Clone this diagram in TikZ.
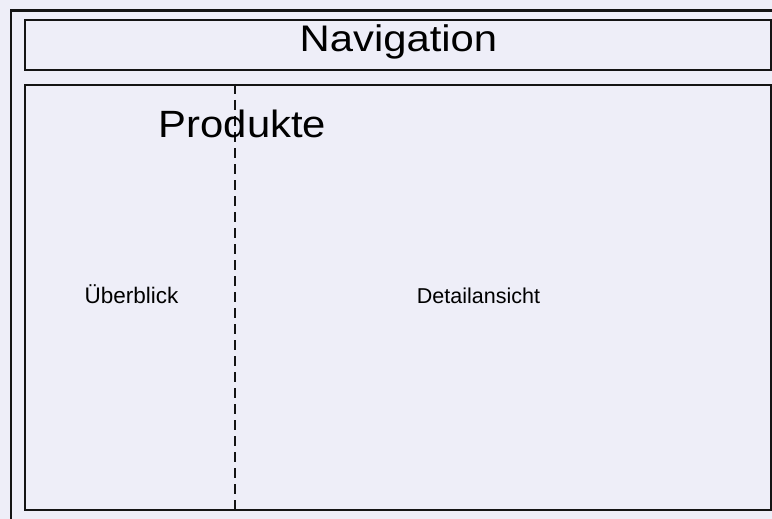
\documentclass[tikz,border=0pt]{standalone}
\usepackage{fontspec}
\usepackage{graphicx}
\setmainfont{Liberation Sans}
\definecolor{bgc}{RGB}{238,238,248}
\definecolor{ink}{RGB}{20,20,20}
\begin{document}
\begin{tikzpicture}[x=1pt,y=-1pt,
  box/.style={draw=ink, line width=2.4pt, fill=bgc, inner sep=0pt, anchor=north west},
  lbl/.style={inner sep=0pt, anchor=base, text=black}]
\useasboundingbox (0,0) rectangle (772,519);
\clip (0,0) rectangle (772,519);
\fill[bgc] (0,0) rectangle (772,519);
\node[box, minimum width=800pt, minimum height=540pt] (outer) at (9.5,9.5) {};
\node[box, minimum width=746pt, minimum height=50pt] (nav) at (24,19) {};
\node[box, minimum width=746pt, minimum height=425pt] (content) at (24,84) {};
\coordinate (dtop) at (235,84);
\coordinate (dbot) at (235,509);
\draw[ink, line width=2.6pt, dash pattern=on 10pt off 6pt] (dtop) -- (dbot);
\node[lbl, font=\fontsize{37}{40}\selectfont] (navlbl) at (398.5,52) {\scalebox{1.13}[1]{Navigation}};
\node[lbl, font=\fontsize{38}{40}\selectfont] (prod) at (242.5,137) {\scalebox{1.1}[1]{Produkte}};
\node[lbl, font=\fontsize{22.5}{24}\selectfont] (ueber) at (131.5,303) {Überblick};
\node[lbl, font=\fontsize{21.5}{24}\selectfont] (detail) at (478.5,303) {Detailansicht};
\end{tikzpicture}
\end{document}
